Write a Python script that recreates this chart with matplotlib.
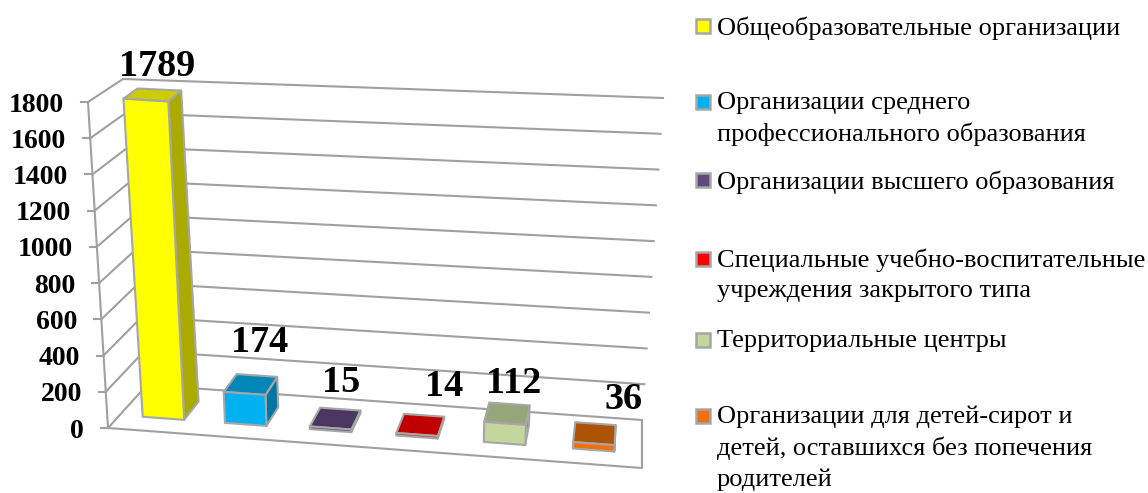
import numpy as np
import matplotlib
matplotlib.use("Agg")
import matplotlib.pyplot as plt
from matplotlib.patches import Polygon, Rectangle

plt.rcParams['font.family'] = ['Liberation Serif', 'DejaVu Serif']

# данные
categories = [
    "Общеобразовательные организации",
    "Организации среднего\nпрофессионального образования",
    "Организации высшего образования",
    "Специальные учебно-воспитательные\nучреждения закрытого типа",
    "Территориальные центры",
    "Организации для детей-сирот и\nдетей, оставшихся без попечения\nродителей",
]
values = [1789, 174, 15, 14, 112, 36]
ticks = [0, 200, 400, 600, 800, 1000, 1200, 1400, 1600, 1800]

front_colors = ["#FFFF00", "#00B0F0", "#5F497A", "#FF0000", "#C3D69B", "#F07010"]
top_colors = ["#CCCC00", "#0087B8", "#4A3660", "#C00000", "#97A67A", "#AC5308"]
side_colors = ["#AAAA00", "#0076A0", "#3F2E52", "#A00000", "#82906A", "#94480A"]

# сдвиг подписей от верха столбца, px
label_dx = [5, 9, 6, 24, 6, 29]
label_dy = [-28, -42, -36, -38, -30, -34]
legend_y = [26, 102, 180, 259, 340, 416]

VMAX = 1800
# углы "коробки" на картинке (px)
FL0, FR0, BL0, BR0 = (108, 428), (642, 468), (147, 385), (642, 420)
FL1, FR1, BL1, BR1 = (88, 102), (663, 146), (123, 79), (663, 98)


def proj(u, d, v):
    # u - вдоль категорий, d - в глубину, v - значение
    c = [np.array(p, dtype=float) for p in (FL0, FR0, BL0, BR0, FL1, FR1, BL1, BR1)]
    low = (1 - d) * ((1 - u) * c[0] + u * c[1]) + d * ((1 - u) * c[2] + u * c[3])
    high = (1 - d) * ((1 - u) * c[4] + u * c[5]) + d * ((1 - u) * c[6] + u * c[7])
    t = v / VMAX
    return (1 - t) * low + t * high


fig = plt.figure(figsize=(11.48, 4.93), dpi=100)
ax = fig.add_axes([0, 0, 1, 1])
ax.set_xlim(0, 1148)
ax.set_ylim(493, 0)
ax.axis("off")

grid = "#A0A0A0"

# сетка на стенках
for t in ticks:
    a = proj(0, 0, t)
    b = proj(0, 1, t)
    e = proj(1, 1, t)
    ax.plot([a[0], b[0], e[0]], [a[1], b[1], e[1]], color=grid, lw=1.5, zorder=1)
    ax.plot([a[0] - 7, a[0]], [a[1], a[1]], color=grid, lw=1.5, zorder=1)
    ax.text(a[0] - 24, a[1] + 3, str(t), ha="right", va="center",
            fontsize=20, fontweight="bold", color="black", zorder=5)

# ось и пол
a = proj(0, 0, 0)
b = proj(0, 0, VMAX)
ax.plot([a[0], b[0]], [a[1], b[1]], color=grid, lw=1.5, zorder=1)
floor = [proj(0, 0, 0), proj(1, 0, 0), proj(1, 1, 0)]
ax.plot([p[0] for p in floor], [p[1] for p in floor], color=grid, lw=1.5, zorder=1)

# столбцы
n = len(values)
d0, d1 = 0.30, 0.72
u_left, u_right = -0.003, 0.99
nudge = [0.004, -0.004, -0.007, -0.007, -0.005, 0.0]
for i, v in enumerate(values):
    step = (u_right - u_left) / n
    u0 = u_left + (i + 0.26) * step + nudge[i]
    u1 = u_left + (i + 0.74) * step + nudge[i]
    fb_l, fb_r = proj(u0, d0, 0), proj(u1, d0, 0)
    ft_l, ft_r = proj(u0, d0, v), proj(u1, d0, v)
    bb_r = proj(u1, d1, 0)
    bt_l, bt_r = proj(u0, d1, v), proj(u1, d1, v)
    for pts, col in [([fb_r, bb_r, bt_r, ft_r], side_colors[i]),
                     ([ft_l, ft_r, bt_r, bt_l], top_colors[i]),
                     ([fb_l, fb_r, ft_r, ft_l], front_colors[i])]:
        ax.add_patch(Polygon(pts, closed=True, facecolor=col, edgecolor="#A6A6A6",
                             lw=1.5, joinstyle="round", zorder=3 + i * 0.01))
    c = proj((u0 + u1) / 2, (d0 + d1) / 2, v)
    ax.text(c[0] + label_dx[i], c[1] + label_dy[i], str(v), ha="center", va="center",
            fontsize=27.5, fontweight="bold", color="black", zorder=6)

# легенда
for i, name in enumerate(categories):
    y = legend_y[i]
    ax.add_patch(Rectangle((695.5, y - 7), 14, 14, facecolor=front_colors[i],
                           edgecolor="#A6A6A6", lw=1.8, zorder=4))
    ax.text(717, y - 10, name, ha="left", va="top", fontsize=19,
            linespacing=1.45, color="black", zorder=5)

fig.savefig("out.png", dpi=100)
